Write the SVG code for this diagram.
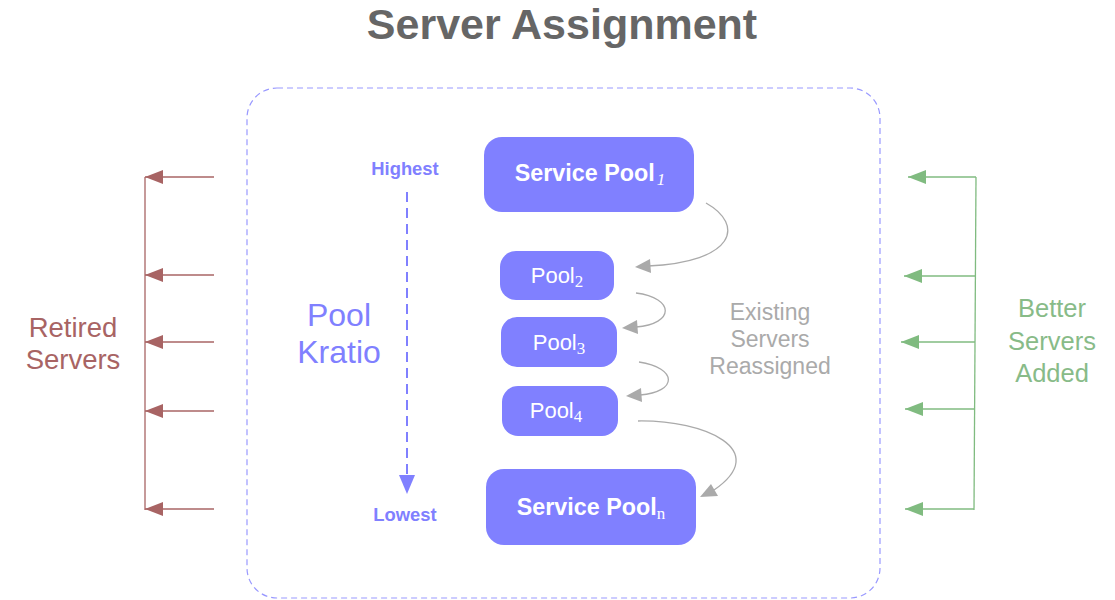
<svg xmlns="http://www.w3.org/2000/svg" width="1115" height="600" viewBox="0 0 1115 600">
<style>
.pool{fill:#8080ff;}
.big{font-family:"Liberation Sans",Arial,sans-serif;font-weight:bold;font-size:23.3px;fill:#fff;text-anchor:middle;}
.small{font-family:"Liberation Sans",Arial,sans-serif;font-size:22px;fill:#fff;text-anchor:middle;}
.sub{font-family:"Liberation Serif","Times New Roman",serif;font-weight:normal;font-size:17px;}
.gray{fill:none;stroke:#aaaaaa;stroke-width:1.3;}
.red{stroke:#a86464;stroke-width:1.3;fill:none;}
.green{stroke:#80bb80;stroke-width:1.3;fill:none;}
.lbl{font-family:"Liberation Sans",Arial,sans-serif;text-anchor:middle;}
</style>
<defs>
<marker id="ar" markerWidth="18" markerHeight="14" refX="18" refY="7" orient="auto" markerUnits="userSpaceOnUse"><path d="M0,0 L18,7 L0,14 z" fill="#a86464"/></marker>
<marker id="agr" markerWidth="18" markerHeight="14" refX="18" refY="7" orient="auto" markerUnits="userSpaceOnUse"><path d="M0,0 L18,7 L0,14 z" fill="#80bb80"/></marker>
</defs>
<rect width="1115" height="600" fill="#fff"/>
<text x="562" y="39" class="lbl" font-size="43" font-weight="bold" fill="#666666">Server Assignment</text>
<rect x="247" y="88" width="633" height="510" rx="30" fill="none" stroke="#9999ff" stroke-width="1.2" stroke-dasharray="6,4"/>

<g id="connectors">
<path class="gray" d="M706,203 C745,225 735,262 648,266"/>
<path d="M635,267 L650,259 L651,273 z" fill="#aaaaaa"/>
<path class="gray" d="M636,293 C675,298 675,324 636,327"/>
<path d="M622,328 L637,320 L638,334 z" fill="#aaaaaa"/>
<path class="gray" d="M639,362 C678,368 678,392 640,395"/>
<path d="M626,396 L641,388 L642,402 z" fill="#aaaaaa"/>
<path class="gray" d="M638,421 C705,420 772,450 714,490"/>
<path d="M700,497 L711,484 L718,496 z" fill="#aaaaaa"/>

<line x1="407" y1="192" x2="407" y2="478" stroke="#8080ff" stroke-width="2" stroke-dasharray="10,6"/>
<path d="M399,475 L415,475 L407,494 z" fill="#8080ff"/>

<line class="red" x1="145" y1="177" x2="145" y2="510"/>
<line class="red" x1="214" y1="177" x2="145" y2="177" marker-end="url(#ar)"/>
<line class="red" x1="214" y1="275" x2="145" y2="275" marker-end="url(#ar)"/>
<line class="red" x1="214" y1="342" x2="145" y2="342" marker-end="url(#ar)"/>
<line class="red" x1="214" y1="411" x2="145" y2="411" marker-end="url(#ar)"/>
<line class="red" x1="214" y1="509" x2="145" y2="509" marker-end="url(#ar)"/>

<line class="green" x1="976" y1="177" x2="974" y2="510"/>
<line class="green" x1="976" y1="177" x2="908" y2="177" marker-end="url(#agr)"/>
<line class="green" x1="975" y1="276" x2="904" y2="276" marker-end="url(#agr)"/>
<line class="green" x1="975" y1="342" x2="901" y2="342" marker-end="url(#agr)"/>
<line class="green" x1="975" y1="409" x2="905" y2="409" marker-end="url(#agr)"/>
<line class="green" x1="974" y1="509" x2="905" y2="509" marker-end="url(#agr)"/>
</g>

<g id="pool1"><rect class="pool" x="484" y="137" width="210" height="75" rx="18"/><text class="big" x="590" y="181">Service Pool<tspan class="sub" font-style="italic" dx="2" dy="4">1</tspan></text></g>
<g id="pool2"><rect class="pool" x="500" y="251" width="114" height="49" rx="16"/><text class="small" x="557" y="283">Pool<tspan class="sub" dy="4">2</tspan></text></g>
<g id="pool3"><rect class="pool" x="501" y="317" width="116" height="50" rx="16"/><text class="small" x="559" y="350">Pool<tspan class="sub" dy="4">3</tspan></text></g>
<g id="pool4"><rect class="pool" x="502" y="386" width="116" height="50" rx="16"/><text class="small" x="556" y="418">Pool<tspan class="sub" dy="4">4</tspan></text></g>
<g id="pooln"><rect class="pool" x="486" y="469" width="210" height="76" rx="18"/><text class="big" x="591" y="515">Service Pool<tspan class="sub" dy="4">n</tspan></text></g>

<g id="labels">
<text class="lbl" x="405" y="175" font-size="18.4" font-weight="bold" fill="#8080ff">Highest</text>
<text class="lbl" x="405" y="521" font-size="18.4" font-weight="bold" fill="#8080ff">Lowest</text>
<text class="lbl" x="339" y="326" font-size="32" fill="#8080ff">Pool</text>
<text class="lbl" x="339" y="363" font-size="32" fill="#8080ff">Kratio</text>
<text class="lbl" x="73" y="337" font-size="27.5" fill="#a86464">Retired</text>
<text class="lbl" x="73" y="369" font-size="27.5" fill="#a86464">Servers</text>
<text class="lbl" x="1052" y="317" font-size="25.5" fill="#88bb88">Better</text>
<text class="lbl" x="1052" y="350" font-size="25.5" fill="#88bb88">Servers</text>
<text class="lbl" x="1052" y="382" font-size="25.5" fill="#88bb88">Added</text>
<text class="lbl" x="770" y="320" font-size="23" fill="#aaaaaa">Existing</text>
<text class="lbl" x="770" y="347" font-size="23" fill="#aaaaaa">Servers</text>
<text class="lbl" x="770" y="374" font-size="23" fill="#aaaaaa">Reassigned</text>
</g>
</svg>
